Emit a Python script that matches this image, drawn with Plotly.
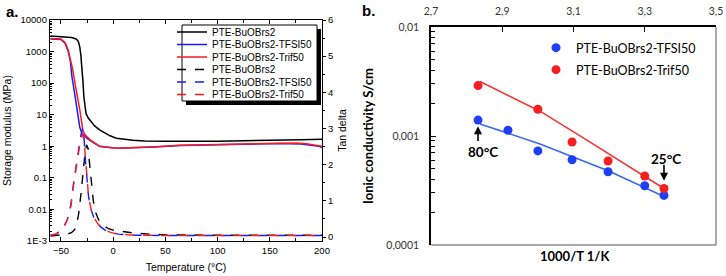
import plotly.graph_objects as go

W, H = 726, 276
def px(x): return x / W
def py(y): return 1 - y / H

# ---------------- Panel a data ----------------
temp_black = [-60, -50, -40, -36, -34, -33, -32, -31, -30, -29, -28, -27, -26, -24, -22, -18, -13, -8, -3, 3, 10, 19, 30, 50, 100, 150, 180, 200]
mod_black = [3100, 3000, 2800, 2550, 2250, 1900, 1400, 800, 350, 120, 35, 16, 11, 8, 6.5, 4.5, 3.3, 2.6, 2.15, 1.8, 1.65, 1.55, 1.48, 1.44, 1.45, 1.5, 1.6, 1.68]

temp_tfsi = [-60, -50, -46, -43, -41, -39.5, -37, -34.7, -32, -30, -27, -22, -12.7, 3.5, 20, 40, 64, 100, 130, 160, 180, 190, 197, 200]
mod_tfsi = [2500, 2400, 1800, 1000, 500, 160, 50, 14, 4, 2.6, 2.0, 1.5, 0.98, 0.86, 0.88, 0.95, 1.05, 1.12, 1.18, 1.22, 1.18, 1.1, 1.0, 0.92]

temp_trif = [-60, -50, -46, -43, -41.4, -39, -36.6, -34, -31.9, -29, -27, -22, -12.7, 3.5, 20, 40, 64, 100, 130, 160, 175, 185, 195, 200]
mod_trif = [2600, 2500, 1900, 1100, 630, 300, 100, 35, 14, 3.2, 2.3, 1.6, 1.0, 0.87, 0.9, 0.97, 1.08, 1.15, 1.22, 1.28, 1.27, 1.2, 1.08, 1.0]

tan_temp_black = [-60, -50, -44, -40, -37, -35, -33, -31, -29, -27, -25.5, -24, -22.5, -21, -19, -17, -14, -10, -5, 0, 10, 20, 35, 50, 100, 150, 200]
tan_black = [0.03, 0.05, 0.08, 0.12, 0.2, 0.35, 0.65, 1.15, 1.75, 2.3, 2.55, 2.45, 2.0, 1.5, 1.0, 0.7, 0.48, 0.33, 0.24, 0.19, 0.14, 0.11, 0.08, 0.06, 0.05, 0.05, 0.05]

tan_temp_salt = [-60, -55, -50.4, -47, -43.7, -40.5, -37.9, -35.5, -33.1, -31, -29.3, -28, -26.4, -25, -23.5, -21, -18.7, -15, -12, -7, -2, 5, 20, 50, 100, 150, 200]
tan_tfsi = [0.05, 0.08, 0.17, 0.3, 0.5, 0.9, 1.5, 2.0, 2.4, 2.8, 3.0, 2.8, 2.05, 1.6, 1.1, 0.75, 0.55, 0.38, 0.28, 0.18, 0.12, 0.08, 0.05, 0.04, 0.04, 0.04, 0.04]
tan_trif = [0.05, 0.08, 0.17, 0.28, 0.5, 0.85, 1.45, 1.95, 2.35, 2.7, 2.85, 2.7, 2.05, 1.6, 1.1, 0.75, 0.55, 0.38, 0.28, 0.18, 0.12, 0.08, 0.05, 0.04, 0.04, 0.04, 0.04]

temp_ticks = [-50, 0, 50, 100, 150, 200]
mod_ticks = [1e-3, 1e-2, 1e-1, 1, 10, 100, 1000, 10000]
mod_ticktext = ["1E-3", "0.01", "0.1", "1", "10", "100", "1000", "10000"]
tan_ticks = [0, 1, 2, 3, 4, 5, 6]

# ---------------- Panel b data ----------------
inv_t_tfsi = [2.832, 2.916, 3.0, 3.096, 3.197, 3.3, 3.354]
sigma_tfsi = [0.0014, 0.00113, 0.00073, 0.000605, 0.00047, 0.00035, 0.000285]
inv_t_trif = [2.832, 3.0, 3.096, 3.197, 3.3, 3.354]
sigma_trif = [0.0029, 0.00176, 0.00088, 0.00059, 0.00043, 0.00033]

fit_x_tfsi = [2.8375, 3.006, 3.197, 3.354]
fit_y_tfsi = [0.00129, 0.000846, 0.00048, 0.000279]
fit_x_trif = [2.8375, 3.006, 3.132, 3.354]
fit_y_trif = [0.00316, 0.00169, 0.00094, 0.00033]

invt_ticks = [2.7, 2.9, 3.1, 3.3, 3.5]
invt_ticktext = ["2,7", "2,9", "3,1", "3,3", "3,5"]
sigma_ticks = [1e-4, 1e-3, 1e-2]
sigma_ticktext = ["0,0001", "0,001", "0,01"]

BLUE = "#1a1aff"
RED = "#ff1a1a"
FA = "Liberation Sans"
FB = "Lato"

fig = go.Figure()

solid = [
    (temp_black, mod_black, "black", "PTE-BuOBrs2", "legend"),
    (temp_tfsi, mod_tfsi, BLUE, "PTE-BuOBrs2-TFSI50", "legend2"),
    (temp_trif, mod_trif, RED, "PTE-BuOBrs2-Trif50", "legend3"),
]
for x, y, c, n, lg in solid:
    fig.add_trace(go.Scatter(x=x, y=y, mode="lines", name=n, line=dict(color=c, width=1.5),
                             xaxis="x", yaxis="y", legend=lg))

dashed = [
    (tan_temp_black, tan_black, "black", "PTE-BuOBrs2", "legend4"),
    (tan_temp_salt, tan_tfsi, BLUE, "PTE-BuOBrs2-TFSI50", "legend5"),
    (tan_temp_salt, tan_trif, RED, "PTE-BuOBrs2-Trif50", "legend6"),
]
for x, y, c, n, lg in dashed:
    fig.add_trace(go.Scatter(x=x, y=y, mode="lines", name=n, line=dict(color=c, width=1.4, dash="dash"),
                             xaxis="x", yaxis="y2", legend=lg))

# Panel b
fig.add_trace(go.Scatter(x=fit_x_tfsi, y=fit_y_tfsi, mode="lines", line=dict(color="#3a66f2", width=1.6),
                         xaxis="x3", yaxis="y3", showlegend=False))
fig.add_trace(go.Scatter(x=fit_x_trif, y=fit_y_trif, mode="lines", line=dict(color="#f23535", width=1.6),
                         xaxis="x3", yaxis="y3", showlegend=False))
fig.add_trace(go.Scatter(x=inv_t_tfsi, y=sigma_tfsi, mode="markers", name="PTE-BuOBrs2-TFSI50",
                         marker=dict(color="#1f3ff5", size=9), xaxis="x3", yaxis="y3", legend="legend7"))
fig.add_trace(go.Scatter(x=inv_t_trif, y=sigma_trif, mode="markers", name="PTE-BuOBrs2-Trif50",
                         marker=dict(color="#f51f1f", size=9), xaxis="x3", yaxis="y3", legend="legend8"))

minor_a = [k * 10 ** e for e in range(-3, 4) for k in range(2, 10)]
minor_b = [k * 10 ** e for e in range(-4, -2) for k in range(2, 10)]

def leg(xp, yp, font):
    return dict(x=px(xp), y=py(yp), xanchor="left", yanchor="middle", bgcolor="rgba(0,0,0,0)",
                borderwidth=0, font=font, itemwidth=30, tracegroupgap=0)

fa_leg = dict(family=FA, size=10, color="black")
fb_leg = dict(family=FB, size=12.5, color="black")
rows_a = [32, 44.5, 57, 69.5, 82, 94.5]

layout_legends = {}
names = ["legend", "legend2", "legend3", "legend4", "legend5", "legend6"]
for n, r in zip(names, rows_a):
    layout_legends[n] = leg(172, r, fa_leg)
layout_legends["legend7"] = leg(536, 48, fb_leg)
layout_legends["legend8"] = leg(536, 70, fb_leg)

fig.update_layout(
    width=W, height=H, margin=dict(l=0, r=0, t=0, b=0, autoexpand=False),
    paper_bgcolor="white", plot_bgcolor="white",
    font=dict(family=FA, size=9.5, color="black"),
    **layout_legends,
    xaxis=dict(domain=[px(50), px(322)], range=[-60.5, 200], anchor="y", tickvals=temp_ticks,
               ticks="inside", ticklen=4, tickwidth=1, tickcolor="black", showline=True, linecolor="black",
               linewidth=1.3, mirror="ticks", showgrid=False, zeroline=False, automargin=False,
               minor=dict(dtick=25, tick0=0, ticks="inside", ticklen=2.5, tickcolor="black"),
               tickfont=dict(family=FA, size=9.5, color="black"),
               title=dict(text="Temperature (°C)", font=dict(family=FA, size=10.5), standoff=9)),
    yaxis=dict(domain=[py(241), py(20)], type="log", range=[-3, 4], anchor="x", tickvals=mod_ticks,
               ticktext=mod_ticktext, ticks="inside", ticklen=4, tickcolor="black", showline=True,
               linecolor="black", linewidth=1.3, showgrid=False, zeroline=False, automargin=False,
               minor=dict(tickvals=minor_a, ticks="inside", ticklen=2, tickcolor="black"),
               tickfont=dict(family=FA, size=9.5, color="black"),
               title=dict(text="Storage modulus (MPa)", font=dict(family=FA, size=10.5), standoff=6)),
    yaxis2=dict(overlaying="y", side="right", anchor="x", range=[-0.11, 6], tickvals=tan_ticks,
                ticks="outside", ticklen=3, tickcolor="black", showline=True, linecolor="black",
                linewidth=1.3, showgrid=False, zeroline=False, automargin=False,
                minor=dict(dtick=0.5, ticks="outside", ticklen=2, tickcolor="black"),
                tickfont=dict(family=FA, size=9.5, color="black"),
                title=dict(text="Tan delta", font=dict(family=FA, size=10.5), standoff=6)),
    xaxis3=dict(domain=[px(431), px(716)], range=[2.7, 3.5], anchor="y3", side="top",
                tickvals=invt_ticks, ticktext=invt_ticktext, ticks="inside", ticklen=5,
                tickcolor="black", showline=True, linecolor="black", linewidth=1.5,
                showgrid=False, zeroline=False, ticklabelstandoff=6, automargin=False,
                tickfont=dict(family=FB, size=10.5, color="#333")),
    yaxis3=dict(domain=[py(245), py(27)], type="log", range=[-4, -2], anchor="x3",
                tickvals=sigma_ticks, ticktext=sigma_ticktext, ticks="inside", ticklen=5,
                tickcolor="black", showline=True, linecolor="black", linewidth=1.5,
                showgrid=False, zeroline=False, ticklabelstandoff=8, automargin=False,
                minor=dict(tickvals=minor_b, ticks="inside", ticklen=4, tickcolor="black"),
                tickfont=dict(family=FB, size=10.5, color="#333"),
                title=dict(text="<b>Ionic conductivity S/cm</b>", font=dict(family=FB, size=13), standoff=10)),
    showlegend=True,
)

shapes = [
    # legend box with shadow (panel a)
    dict(type="rect", xref="paper", yref="paper", x0=px(186), x1=px(321), y0=py(105), y1=py(29),
         fillcolor="black", line=dict(width=0), layer="above"),
    dict(type="rect", xref="paper", yref="paper", x0=px(182), x1=px(317), y0=py(101), y1=py(25),
         fillcolor="white", line=dict(color="black", width=1), layer="above"),
    # grey right/bottom frame (panel b)
    dict(type="line", xref="x3 domain", yref="y3 domain", x0=1, x1=1, y0=0, y1=1,
         line=dict(color="#8c8c8c", width=1.5)),
    dict(type="line", xref="x3 domain", yref="y3 domain", x0=0, x1=1, y0=0, y1=0,
         line=dict(color="#8c8c8c", width=1.5)),
]
fig.update_layout(shapes=shapes)

annotations = [
    dict(text="<b>a.</b>", x=px(4), y=py(12), xref="paper", yref="paper", xanchor="left", yanchor="middle",
         showarrow=False, font=dict(family=FA, size=15, color="black")),
    dict(text="<b>b.</b>", x=px(360), y=py(11), xref="paper", yref="paper", xanchor="left", yanchor="middle",
         showarrow=False, font=dict(family=FA, size=15, color="black")),
    dict(text="<b>1000/T 1/K</b>", x=px(575), y=py(256), xref="paper", yref="paper", showarrow=False,
         xanchor="center", yanchor="middle", font=dict(family=FB, size=13, color="black")),
    # arrows
    dict(text="", x=2.832, y=-2.91, xref="x3", yref="y3", ax=2.832, ay=-3.06, axref="x3", ayref="y3",
         showarrow=True, arrowhead=2, arrowsize=1, arrowwidth=1.6, arrowcolor="black"),
    dict(text="", x=3.354, y=-3.41, xref="x3", yref="y3", ax=3.354, ay=-3.25, axref="x3", ayref="y3",
         showarrow=True, arrowhead=2, arrowsize=1, arrowwidth=1.6, arrowcolor="black"),
    dict(text="<b>80°C</b>", x=2.846, y=-3.145, xref="x3", yref="y3", showarrow=False,
         font=dict(family=FB, size=13.5, color="black")),
    dict(text="<b>25°C</b>", x=3.36, y=-3.209, xref="x3", yref="y3", showarrow=False,
         font=dict(family=FB, size=13.5, color="black")),
]
fig.update_layout(annotations=annotations)

fig.write_html("out.html", config={"displayModeBar": False},
               post_script="document.body.style.margin='0';document.body.style.padding='0';"
                           "document.documentElement.style.overflow='hidden';")
